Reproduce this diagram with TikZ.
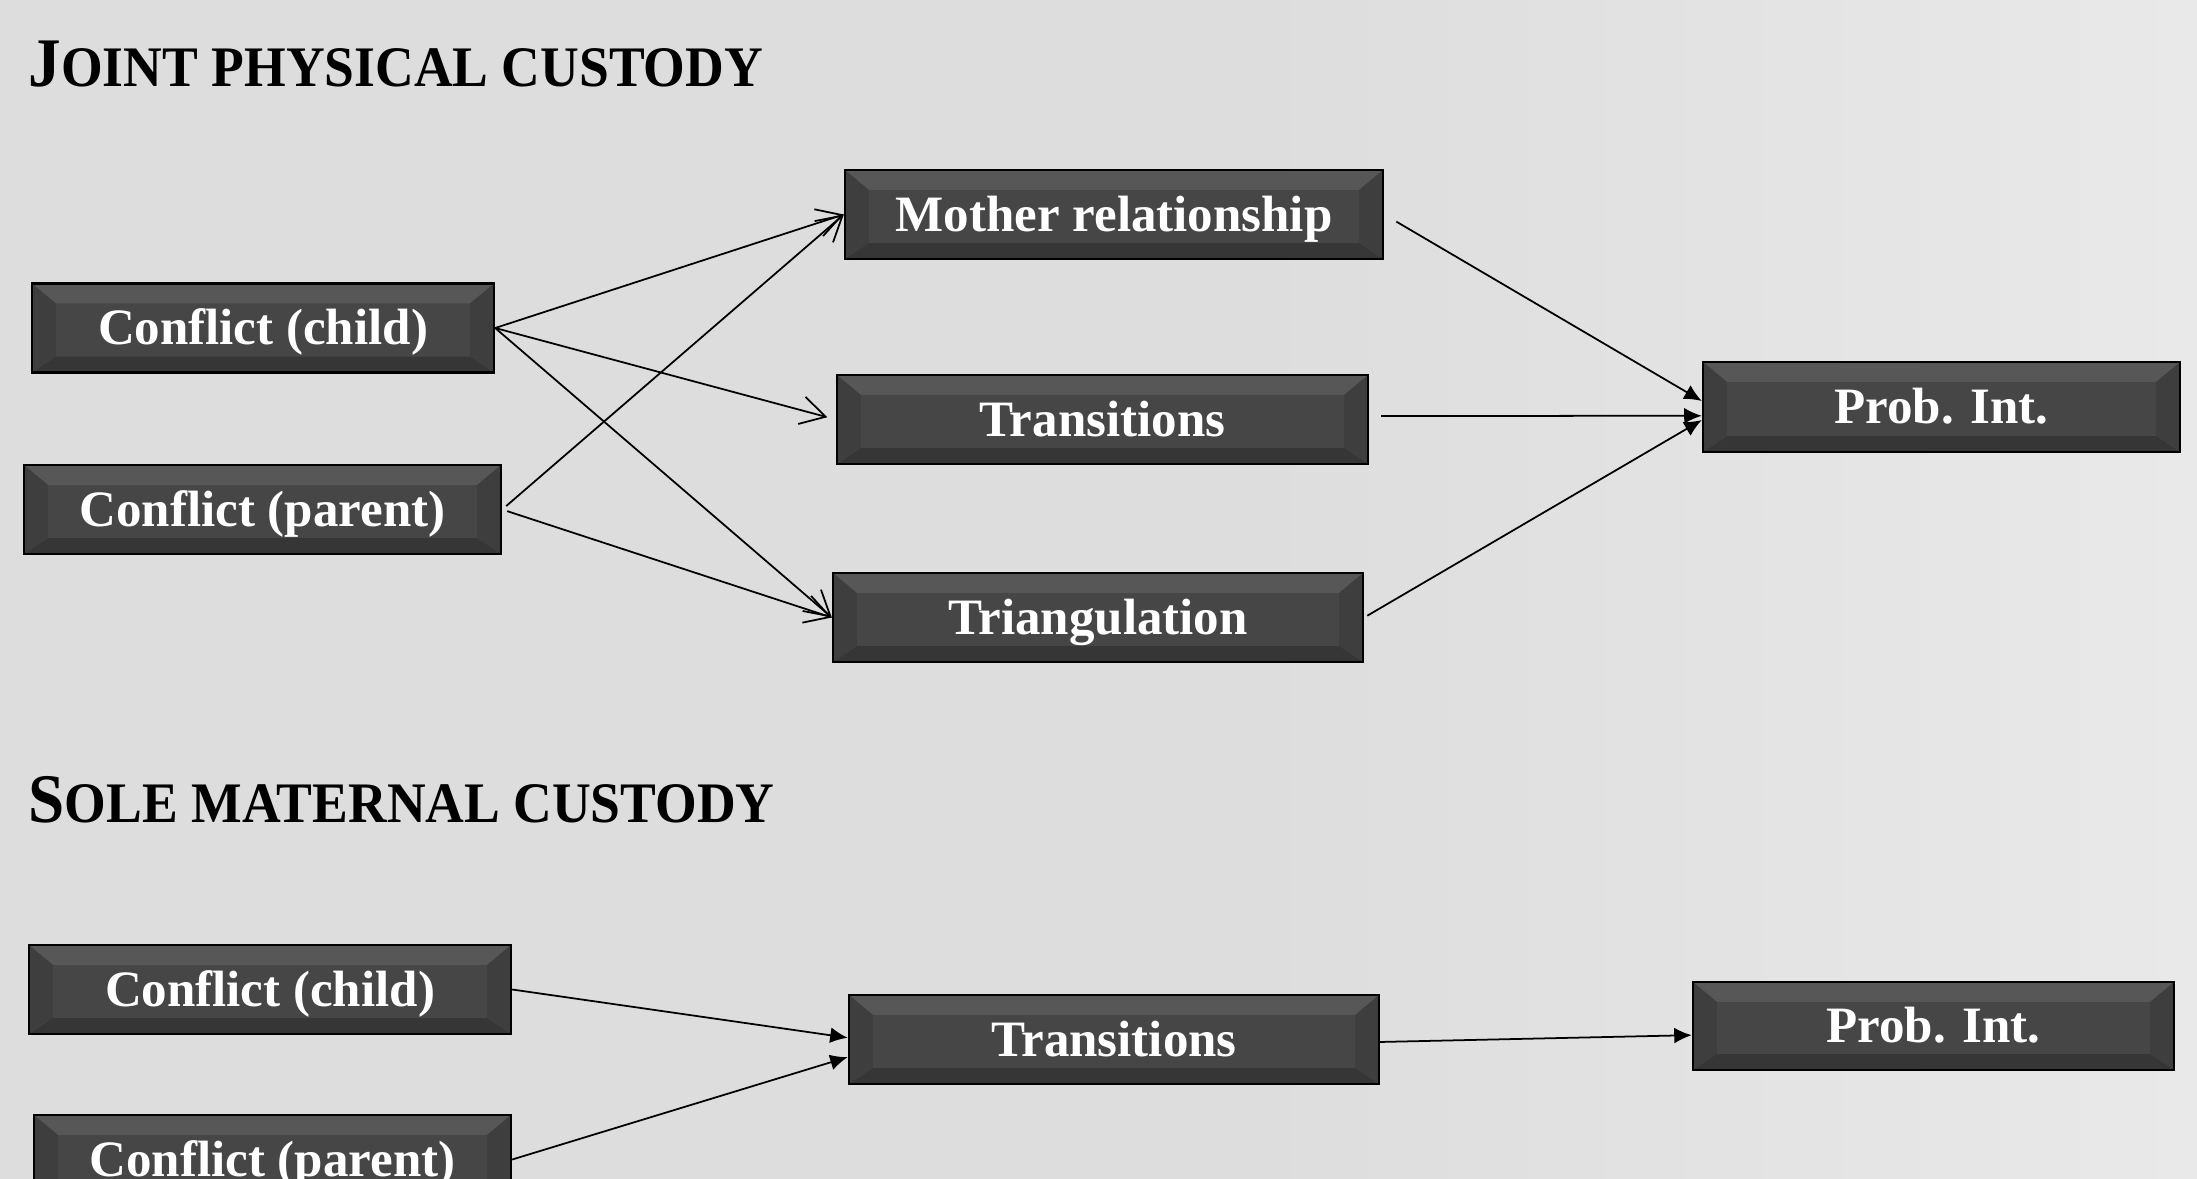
\documentclass[tikz,border=0pt]{standalone}
\usepackage{fontspec}
\setmainfont{Liberation Serif}
\newfontfamily\headfont[FakeStretch=0.935]{Liberation Serif}
\usetikzlibrary{arrows.meta}

\definecolor{bgleft}{HTML}{DDDDDD}
\definecolor{bgright}{HTML}{E9E9E9}
\definecolor{boxgray}{HTML}{464646}
\definecolor{boxtop}{HTML}{575757}
\definecolor{boxbottom}{HTML}{363636}
\definecolor{boxside}{HTML}{3E3E3E}

\newcommand{\boxfont}{\fontsize{14.5pt}{16pt}\selectfont\bfseries}
\newcommand{\headsc}[2]{{\headfont\fontsize{19.8pt}{22pt}\selectfont\bfseries #1}{\headfont\fontsize{16.3pt}{18pt}\selectfont\bfseries #2}}

\tikzset{
  bevel/.style={draw=black, line width=0.6pt, fill=boxgray, text=white,
    font=\boxfont, inner sep=0pt, minimum height=0.89cm,
    text height=12pt, text depth=2.5pt,
    path picture={
      \fill[boxtop] (path picture bounding box.north west)
        -- (path picture bounding box.north east)
        -- ([shift={(-0.24cm,-0.2cm)}]path picture bounding box.north east)
        -- ([shift={(0.24cm,-0.2cm)}]path picture bounding box.north west) -- cycle;
      \fill[boxbottom] (path picture bounding box.south west)
        -- (path picture bounding box.south east)
        -- ([shift={(-0.24cm,0.16cm)}]path picture bounding box.south east)
        -- ([shift={(0.24cm,0.16cm)}]path picture bounding box.south west) -- cycle;
      \fill[boxside] (path picture bounding box.north west)
        -- ([shift={(0.24cm,-0.2cm)}]path picture bounding box.north west)
        -- ([shift={(0.24cm,0.16cm)}]path picture bounding box.south west)
        -- (path picture bounding box.south west) -- cycle;
      \fill[boxside] (path picture bounding box.north east)
        -- ([shift={(-0.24cm,-0.2cm)}]path picture bounding box.north east)
        -- ([shift={(-0.24cm,0.16cm)}]path picture bounding box.south east)
        -- (path picture bounding box.south east) -- cycle;
    }},
  openarrow/.style={-{Straight Barb[length=7pt,width=8pt]}, line width=0.5pt},
  headarrow/.style={-{Latex[length=5pt,width=4.5pt]}, line width=0.5pt},
  heading/.style={anchor=base west, inner sep=0pt}
}

\begin{document}
\begin{tikzpicture}[x=0.01cm, y=-0.01cm]

  \useasboundingbox (0,0) rectangle (2197,1179);
  \fill [bgleft] (0,0) rectangle (2197,1179);
  \shade [left color=bgleft, right color=bgright] (1250,0) rectangle (2197,1179);

  % joint physical custody
  \node [heading] (joint) at (28,87) {\headsc{J}{OINT PHYSICAL CUSTODY}};

  \node [bevel, minimum width=4.62cm] (cc) at (263,328) {Conflict (child)};
  \node [bevel, minimum width=4.77cm] (cp) at (262.5,509.5) {Conflict (parent)};
  \node [bevel, minimum width=5.38cm] (mo) at (1114,214.5) {Mother relationship};
  \node [bevel, minimum width=5.31cm] (tr) at (1102.5,419.5) {Transitions};
  \node [bevel, minimum width=5.30cm] (tri) at (1098,617.5) {Triangulation};
  \node [bevel, minimum width=4.77cm, minimum height=0.9cm] (pi) at (1941.5,407) {Prob. Int.};

  \path [openarrow] (cc.east) edge (mo.west) ;

  \path [openarrow, shorten >=2.5pt] (cc.east) edge (tr.west) ;

  \path [openarrow] (cc.east) edge (tri.west) ;

  \path [openarrow, shorten <=1.5pt] (cp.east) edge (mo.west) ;

  \path [openarrow, shorten <=1.5pt] (cp.east) edge (tri.west) ;

  \path [headarrow, shorten <=4pt] (mo.east) edge ([yshift=1.7pt]pi.west) ;

  \path [headarrow] ([xshift=3.4pt,yshift=1pt]tr.east) edge ([yshift=-2.5pt]pi.west) ;

  \path [headarrow, shorten <=1pt] (tri.east) edge ([yshift=-3.7pt]pi.west) ;

  % sole maternal custody
  \node [heading] (sole) at (28,822) {\headsc{S}{OLE MATERNAL CUSTODY}};

  \node [bevel, minimum width=4.82cm] (scc) at (270,989.5) {Conflict (child)};
  \node [bevel, minimum width=4.77cm] (scp) at (272.5,1159.5) {Conflict (parent)};
  \node [bevel, minimum width=5.30cm] (str) at (1114,1039.5) {Transitions};
  \node [bevel, minimum width=4.81cm, minimum height=0.88cm] (spi) at (1933.5,1026) {Prob. Int.};

  \path [headarrow] (scc.east) edge ([yshift=0.5pt]str.west) ;

  \path [headarrow] (scp.east) edge ([yshift=-5pt]str.west) ;

  \path [headarrow] ([yshift=-0.7pt]str.east) edge ([yshift=-2.6pt]spi.west) ;

\end{tikzpicture}
\end{document}
